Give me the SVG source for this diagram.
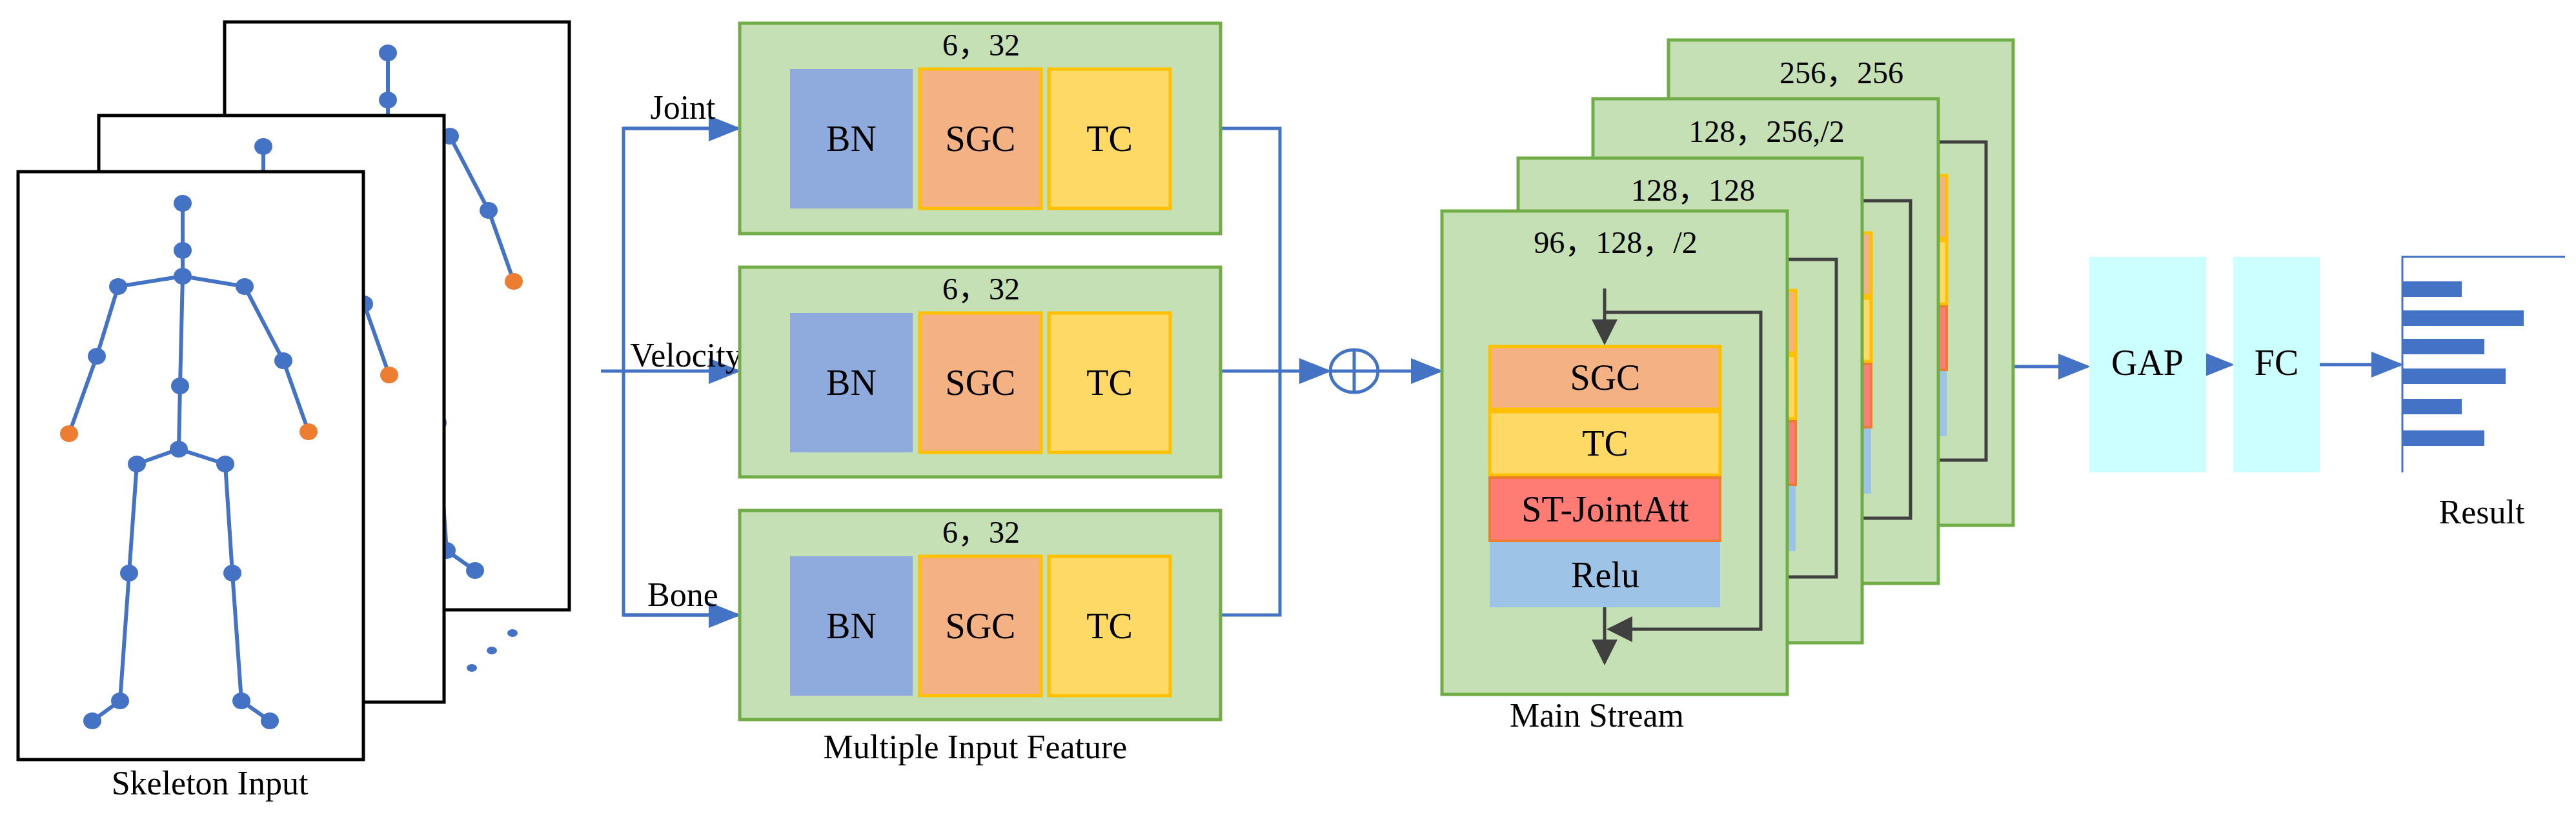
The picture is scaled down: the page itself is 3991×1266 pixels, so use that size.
<svg xmlns="http://www.w3.org/2000/svg" width="3991" height="1266" viewBox="0 0 3991 1266">
<style>
text{font-family:"Liberation Serif","Noto Sans CJK SC",serif;fill:#000;text-anchor:middle}
.frame{fill:#fff;stroke:#000;stroke-width:5}
.bone{stroke:#4472C4;stroke-width:6;fill:none}
.j{fill:#4472C4}.o{fill:#ED7D31}
.grn{fill:#C5E0B4;stroke:#70AD47;stroke-width:5}
.bn{fill:#8FAADC}
.sgc{fill:#F4B183;stroke:#FFC000;stroke-width:5}
.tc{fill:#FFD966;stroke:#FFC000;stroke-width:5}
.att{fill:#FF7C74;stroke:#ED7D31;stroke-width:4}
.relu{fill:#9DC3E6}
.blue{stroke:#4472C4;stroke-width:5;fill:none}
.dark{stroke:#404040;stroke-width:5;fill:none}
.cyan{fill:#CCFFFF}
.lbl{font-size:52px}
.num{font-size:48px}
.in{font-size:56px}
</style>
<defs>
<marker id="ab" markerWidth="10" markerHeight="8" refX="9" refY="4" orient="auto" markerUnits="strokeWidth"><path d="M0,0L10,4L0,8z" fill="#4472C4"/></marker>
<marker id="ad" markerWidth="8" markerHeight="8" refX="7" refY="4" orient="auto" markerUnits="strokeWidth"><path d="M0,0L8,4L0,8z" fill="#404040"/></marker>
<g id="skel">
<path class="bone" d="M283,315V428L279,598L277,696M183,444L283,428L379,444M183,444L150,552L107,672M379,444L439,559L478,669M212,719L277,696L349,719M212,719L200,888L186,1086L143,1117M349,719L360,888L374,1086L418,1117"/>
<g class="j"><ellipse cx="283" cy="315" rx="14" ry="13"/><ellipse cx="283" cy="388" rx="14" ry="13"/><ellipse cx="283" cy="428" rx="14" ry="13"/><ellipse cx="183" cy="444" rx="14" ry="13"/><ellipse cx="150" cy="552" rx="14" ry="13"/><ellipse cx="379" cy="444" rx="14" ry="13"/><ellipse cx="439" cy="559" rx="14" ry="13"/><ellipse cx="279" cy="598" rx="14" ry="13"/><ellipse cx="277" cy="696" rx="14" ry="13"/><ellipse cx="212" cy="719" rx="14" ry="13"/><ellipse cx="349" cy="719" rx="14" ry="13"/><ellipse cx="200" cy="888" rx="14" ry="13"/><ellipse cx="360" cy="888" rx="14" ry="13"/><ellipse cx="186" cy="1086" rx="14" ry="13"/><ellipse cx="374" cy="1086" rx="14" ry="13"/><ellipse cx="143" cy="1117" rx="14" ry="13"/><ellipse cx="418" cy="1117" rx="14" ry="13"/></g>
<g class="o"><ellipse cx="107" cy="672" rx="14" ry="13"/><ellipse cx="478" cy="669" rx="14" ry="13"/></g>
</g>
</defs>

<g id="skeleton-input">
<rect class="frame" x="348" y="34" width="534" height="911"/>
<use href="#skel" transform="translate(318,-233)"/>
<rect class="frame" x="153" y="179" width="535" height="909"/>
<use href="#skel" transform="translate(125,-88)"/>
<rect class="frame" x="28" y="266" width="535" height="911"/>
<use href="#skel"/>
<g class="j"><ellipse cx="794" cy="981" rx="8" ry="6"/><ellipse cx="762" cy="1008" rx="8" ry="6"/><ellipse cx="731" cy="1035" rx="8" ry="6"/></g>
<text class="lbl" x="325" y="1231">Skeleton Input</text>
</g>

<g id="connectors">
<path class="blue" d="M931,575H1143" marker-end="url(#ab)"/>
<path class="blue" d="M1143,199H966V953H1143" />
<path class="blue" d="M966,199H1143" marker-end="url(#ab)"/>
<path class="blue" d="M966,953H1143" marker-end="url(#ab)"/>
<path class="blue" d="M1891,199H1983V953H1891"/>
<path class="blue" d="M1891,575H2058" marker-end="url(#ab)"/>
<path class="blue" d="M2135,575H2231" marker-end="url(#ab)"/>
<path class="blue" d="M3119,568H3234" marker-end="url(#ab)"/>
<path class="blue" d="M3418,565H3457" marker-end="url(#ab)"/>
<path class="blue" d="M3594,565H3719" marker-end="url(#ab)"/>
</g>
<text class="lbl" x="1058" y="184">Joint</text>
<text class="lbl" x="1063" y="568">Velocity</text>
<text class="lbl" x="1058" y="939">Bone</text>

<g id="sum"><ellipse cx="2098" cy="575" rx="37" ry="33" fill="#fff" stroke="#4472C4" stroke-width="5"/><path class="blue" d="M2061,575H2135M2098,542V608"/></g>

<g id="joint-branch">
<rect class="grn" x="1146" y="36" width="745" height="326"/>
<text class="num" x="1520" y="86">6，32</text>
<rect class="bn" x="1224" y="107" width="190" height="216"/><text class="in" x="1319" y="234">BN</text>
<rect class="sgc" x="1425" y="107" width="188" height="216"/><text class="in" x="1519" y="234">SGC</text>
<rect class="tc" x="1625" y="107" width="188" height="216"/><text class="in" x="1719" y="234">TC</text>
</g>
<g id="velocity-branch">
<rect class="grn" x="1146" y="414" width="745" height="325"/>
<text class="num" x="1520" y="464">6，32</text>
<rect class="bn" x="1224" y="485" width="190" height="216"/><text class="in" x="1319" y="612">BN</text>
<rect class="sgc" x="1425" y="485" width="188" height="216"/><text class="in" x="1519" y="612">SGC</text>
<rect class="tc" x="1625" y="485" width="188" height="216"/><text class="in" x="1719" y="612">TC</text>
</g>
<g id="bone-branch">
<rect class="grn" x="1146" y="791" width="745" height="324"/>
<text class="num" x="1520" y="841">6，32</text>
<rect class="bn" x="1224" y="862" width="190" height="216"/><text class="in" x="1319" y="989">BN</text>
<rect class="sgc" x="1425" y="862" width="188" height="216"/><text class="in" x="1519" y="989">SGC</text>
<rect class="tc" x="1625" y="862" width="188" height="216"/><text class="in" x="1719" y="989">TC</text>
</g>
<text class="lbl" x="1511" y="1175">Multiple Input Feature</text>

<g id="block4">
<rect class="grn" x="2585" y="62" width="534" height="752"/>
<text class="num" x="2853" y="129">256，256</text>
<g transform="translate(351,-265)"><rect class="sgc" x="2308" y="537" width="357" height="97"/><rect class="tc" x="2308" y="638" width="357" height="98"/><rect class="att" x="2308" y="740" width="357" height="98"/><rect class="relu" x="2308" y="840" width="357" height="101"/></g>
<path class="dark" d="M3003,220H3077V713H3003"/>
</g>
<g id="block3">
<rect class="grn" x="2468" y="153" width="535" height="751"/>
<text class="num" x="2737" y="220">128，256,/2</text>
<g transform="translate(234,-176)"><rect class="sgc" x="2308" y="537" width="357" height="97"/><rect class="tc" x="2308" y="638" width="357" height="98"/><rect class="att" x="2308" y="740" width="357" height="98"/><rect class="relu" x="2308" y="840" width="357" height="101"/></g>
<path class="dark" d="M2885,311H2960V803H2885"/>
</g>
<g id="block2">
<rect class="grn" x="2352" y="245" width="533" height="751"/>
<text class="num" x="2623" y="311">128，128</text>
<g transform="translate(117,-87)"><rect class="sgc" x="2308" y="537" width="357" height="97"/><rect class="tc" x="2308" y="638" width="357" height="98"/><rect class="att" x="2308" y="740" width="357" height="98"/><rect class="relu" x="2308" y="840" width="357" height="101"/></g>
<path class="dark" d="M2769,402H2845V894H2769"/>
</g>
<g id="block1">
<rect class="grn" x="2234" y="327" width="535" height="749"/>
<text class="num" x="2503" y="392">96，128，/2</text>
<rect class="sgc" x="2308" y="537" width="357" height="97"/><text class="in" x="2487" y="604">SGC</text>
<rect class="tc" x="2308" y="638" width="357" height="98"/><text class="in" x="2487" y="706">TC</text>
<rect class="att" x="2308" y="740" width="357" height="98"/><text class="in" x="2487" y="808">ST-JointAtt</text>
<rect class="relu" x="2308" y="840" width="357" height="101"/><text class="in" x="2487" y="910">Relu</text>
<path class="dark" d="M2486,447V530" marker-end="url(#ad)"/>
<path class="dark" d="M2486,484H2728V975H2494" marker-end="url(#ad)"/>
<path class="dark" d="M2486,941V1026" marker-end="url(#ad)"/>
</g>
<text class="lbl" x="2474" y="1126">Main Stream</text>

<g id="gap"><rect class="cyan" x="3237" y="398" width="181" height="334"/><text class="in" x="3327" y="581">GAP</text></g>
<g id="fc"><rect class="cyan" x="3460" y="398" width="134" height="334"/><text class="in" x="3527" y="581">FC</text></g>

<g id="result">
<path d="M3722,732V398H3974" stroke="#4472C4" stroke-width="3" fill="none"/>
<g fill="#4472C4"><rect x="3722" y="436" width="92" height="24"/><rect x="3722" y="481" width="188" height="24"/><rect x="3722" y="525" width="127" height="24"/><rect x="3722" y="571" width="160" height="24"/><rect x="3722" y="618" width="92" height="24"/><rect x="3722" y="667" width="127" height="24"/></g>
<text class="lbl" x="3845" y="811">Result</text>
</g>
</svg>
